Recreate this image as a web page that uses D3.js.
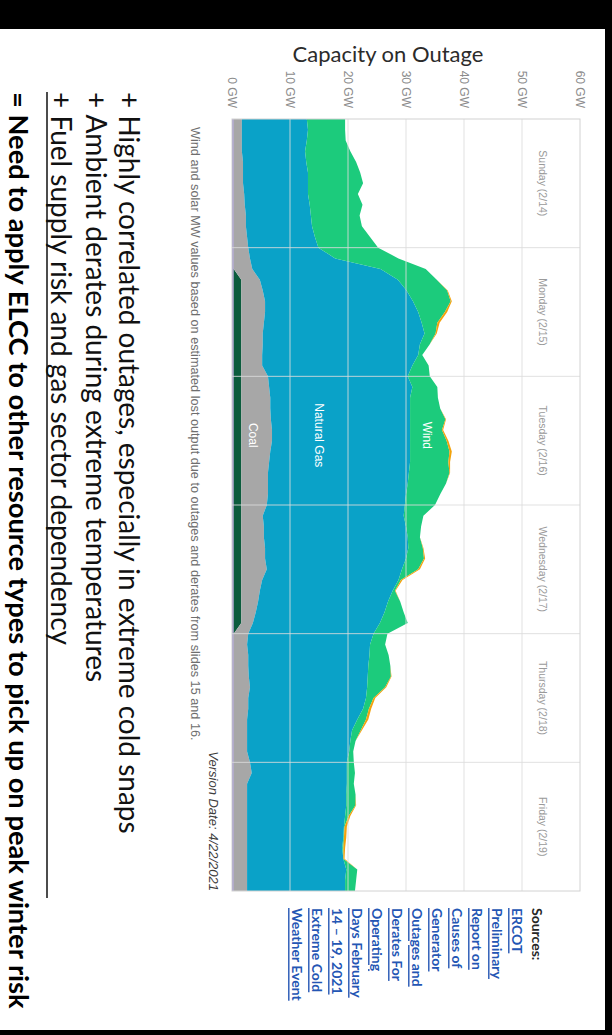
<!DOCTYPE html>
<html>
<head>
<meta charset="utf-8">
<script src="https://cdn.jsdelivr.net/npm/d3@7"></script>
<style>
  html, body { margin: 0; padding: 0; background: #000; }
  svg { display: block; }
</style>
</head>
<body>
<svg id="page" width="612" height="1035"></svg>
<script>
// Sample times, hours after Sunday 2/14 00:00
const hours = [
  0, 2, 4, 6, 8, 10, 12, 14, 16, 18, 20, 22,
  24, 26, 28, 30, 32, 34, 36, 38, 40, 42, 44, 46,
  48, 50, 52, 54, 56, 58, 60, 62, 64, 66, 68, 70,
  72, 74, 76, 78, 80, 82, 84, 86, 88, 90, 92, 94,
  96, 98, 100, 102, 104, 106, 108, 110, 112, 114, 116, 118,
  120, 122, 124, 126, 128, 130, 132, 134, 136, 138, 140, 142,
  144
];

const dayLabels = ["Sunday (2/14)", "Monday (2/15)", "Tuesday (2/16)",
                   "Wednesday (2/17)", "Thursday (2/18)", "Friday (2/19)"];
const gwTicks = [0, 10, 20, 30, 40, 50, 60];

// Capacity on outage by resource, GW
const other = [
  0.3,0.3,0.3,0.3,0.3,0.3,0.3,0.3,0.3,0.3,0.3,0.3,
  0.3,0.3,0.3,0.3,0.3,0.3,0.3,0.3,0.3,0.3,0.3,0.3,
  0.3,0.3,0.3,0.3,0.3,0.3,0.3,0.3,0.3,0.3,0.3,0.3,
  0.3,0.3,0.3,0.3,0.3,0.3,0.3,0.3,0.3,0.3,0.3,0.3,
  0.3,0.3,0.3,0.3,0.3,0.3,0.3,0.3,0.3,0.3,0.3,0.3,
  0.3,0.3,0.3,0.3,0.3,0.3,0.3,0.3,0.3,0.3,0.3,0.3,
  0.3
];
const nuclear = [
  0,0,0,0,0,0,0,0,0,0,0,0,
  0,0,0,1.3,1.3,1.3,1.3,1.3,1.3,1.3,1.3,1.3,
  1.3,1.3,1.3,1.3,1.3,1.3,1.3,1.3,1.3,1.3,1.3,1.3,
  1.3,1.3,1.3,1.3,1.3,1.3,1.3,1.3,1.3,1.3,1.3,1.3,
  0,0,0,0,0,0,0,0,0,0,0,0,
  0,0,0,0,0,0,0,0,0,0,0,0,
  0
];
const coal = [
  1.4,1.4,1.4,1.4,1.6,1.6,1.6,1.8,1.9,2.1,2.1,2.3,
  2.5,2.8,3.2,3.2,3.7,4.1,4.1,3.9,3.7,3.7,3.6,3.6,
  4.6,4.8,5.0,5.0,5.1,5.3,5.3,5.0,4.8,4.6,4.6,4.6,
  4.4,3.7,3.9,3.9,4.1,4.1,4.4,3.6,3.2,2.9,2.5,2.0,
  2.5,2.3,2.5,2.5,2.6,2.8,2.5,2.5,2.3,2.3,2.3,2.3,
  2.8,3.1,2.3,2.3,2.3,2.3,2.3,2.3,2.3,2.3,2.3,2.3,
  2.3
];
const naturalGas = [
  11.2,11.4,11.2,10.9,10.9,11.2,11.2,11.0,11.2,11.2,11.4,11.7,
  12.1,14.7,22.1,23.8,24.8,25.5,26.4,27.2,27.9,27.1,26.9,25.9,
  24.1,24.7,24.1,24.1,24.0,23.8,23.8,24.1,24.3,24.3,24.1,23.8,
  23.8,24.3,24.5,24.8,24.7,24.3,23.3,23.5,22.9,22.4,22.2,21.9,
  21.6,21.2,20.9,20.7,20.5,20.2,20.3,19.8,19.0,18.1,17.8,17.6,
  16.7,16.4,17.2,17.1,17.1,16.9,16.7,16.6,16.4,16.6,17.1,16.9,
  16.9
];
const wind = [
  6.6,6.4,6.7,7.8,8.6,9.0,9.5,8.6,9.1,8.4,8.6,9.5,
  10.3,10.9,7.8,6.7,7.0,6.5,4.6,2.7,1.9,1.7,0.7,2.8,
  3.8,4.3,4.8,5.2,6.1,5.5,6.3,6.8,6.6,7.0,6.6,5.9,
  5.2,3.4,2.6,2.1,2.5,3.1,2.8,0.4,0.4,2.1,3.3,4.8,
  2.4,2.6,3.3,3.8,4.0,3.1,1.3,1.0,1.5,1.5,0.9,0.7,
  1.2,1.4,1.2,1.6,1.6,0.6,0.1,0.1,0.2,0.0,1.9,1.9,
  1.7
];
const solar = [
  0,0,0,0,0,0,0,0,0,0,0,0,
  0,0,0,0,0.1,0.2,0.4,0.4,0.2,0,0,0,
  0,0,0,0,0.1,0.2,0.3,0.4,0.3,0.1,0,0,
  0,0,0,0,0.1,0.2,0.3,0.3,0.1,0,0,0,
  0,0,0,0,0.1,0.2,0.3,0.4,0.4,0.2,0,0,
  0,0,0,0,0.1,0.3,0.4,0.4,0.3,0.2,0,0,
  0
];

const layerKeys = ["other", "nuclear", "coal", "naturalGas", "wind", "solar"];
const layerColors = {
  other: "#9d92c8",
  nuclear: "#0c5c3d",
  coal: "#a7a7a7",
  naturalGas: "#0aa2c8",
  wind: "#1ccb7c",
  solar: "#f2a20c"
};

const bullets = [
  "+ Highly correlated outages, especially in extreme cold snaps",
  "+ Ambient derates during extreme temperatures",
  "+ Fuel supply risk and gas sector dependency"
];
const conclusion = "= Need to apply ELCC to other resource types to pick up on peak winter risk";
const footnote = "Wind and solar MW values based on estimated lost output due to outages and derates from slides 15 and 16.";
const versionText = "Version Date: 4/22/2021";
const sourceLines = ["ERCOT", "Preliminary", "Report on", "Causes of", "Generator",
  "Outages and", "Derates For", "Operating", "Days February", "14 \u2013 19, 2021",
  "Extreme Cold", "Weather Event"];

const table = hours.map((h, i) => ({
  hour: h, other: other[i], nuclear: nuclear[i], coal: coal[i],
  naturalGas: naturalGas[i], wind: wind[i], solar: solar[i]
}));

const svg = d3.select("#page");
const chartFont = "'Liberation Sans', Arial, sans-serif";
const slideFont = "Lato, 'Open Sans', sans-serif";

// page background: black frame with the white slide
svg.append("rect").attr("width", 612).attr("height", 1035).attr("fill", "#000");
svg.append("rect").attr("x", 0).attr("y", 29).attr("width", 605).attr("height", 1001).attr("fill", "#fff");

// axis title reads horizontally on the turned slide
svg.append("text")
  .attr("x", 388).attr("y", 53)
  .attr("text-anchor", "middle").attr("dominant-baseline", "central")
  .attr("font-family", slideFont).attr("font-size", 22)
  .attr("fill", "#2b2b2b")
  .text("Capacity on Outage");

// the slide is laid out in its own frame, turned a quarter clockwise
const slide = svg.append("g").attr("transform", "translate(605,30) rotate(90)");

const plot = { left: 89, right: 861, top: 25, bottom: 373 };
const x = d3.scaleLinear().domain([0, 144]).range([plot.left, plot.right]);
const y = d3.scaleLinear().domain([0, 60]).range([plot.bottom, plot.top]);

const series = d3.stack().keys(layerKeys)(table);
const area = d3.area()
  .x(d => x(d.data.hour))
  .y0(d => y(d[0]))
  .y1(d => y(d[1]));

slide.append("g").selectAll("path")
  .data(series)
  .join("path")
  .attr("d", area)
  .attr("fill", s => layerColors[s.key]);

// gridlines over the areas
const grid = slide.append("g").attr("stroke", "#dcdcdc").attr("stroke-opacity", 0.85).attr("stroke-width", 1);
grid.selectAll("line.gw")
  .data(gwTicks.filter(t => t > 0 && t < 60))
  .join("line")
  .attr("x1", plot.left).attr("x2", plot.right)
  .attr("y1", d => y(d)).attr("y2", d => y(d));
grid.selectAll("line.day")
  .data(d3.range(1, dayLabels.length))
  .join("line")
  .attr("x1", d => x(d * 24)).attr("x2", d => x(d * 24))
  .attr("y1", plot.top).attr("y2", plot.bottom);

slide.append("rect")
  .attr("x", plot.left).attr("y", plot.top)
  .attr("width", plot.right - plot.left).attr("height", plot.bottom - plot.top)
  .attr("fill", "none").attr("stroke", "#d2d2d2").attr("stroke-width", 1);

// value axis
const yAxis = slide.append("g")
  .attr("transform", `translate(${plot.left},0)`)
  .call(d3.axisLeft(y).tickValues(gwTicks).tickFormat(d => d + " GW").tickSize(0).tickPadding(11));
yAxis.select(".domain").remove();
yAxis.selectAll("text")
  .attr("font-family", chartFont).attr("font-size", 12).attr("fill", "#8c8c8c");

// day headers along the top of the plot
slide.append("g").selectAll("text")
  .data(dayLabels)
  .join("text")
  .attr("x", (d, i) => x(i * 24 + 12))
  .attr("y", 62)
  .attr("text-anchor", "middle").attr("dominant-baseline", "central")
  .attr("font-family", chartFont).attr("font-size", 10.5).attr("fill", "#9a9a9a")
  .text(d => d);

// labels inside the layers
const inLabels = [
  { text: "Wind", hour: 59, gw: 33.6 },
  { text: "Natural Gas", hour: 59, gw: 15.0 },
  { text: "Coal", hour: 59, gw: 3.7 }
];
slide.append("g").selectAll("text")
  .data(inLabels)
  .join("text")
  .attr("x", d => x(d.hour)).attr("y", d => y(d.gw))
  .attr("text-anchor", "middle").attr("dominant-baseline", "central")
  .attr("font-family", chartFont).attr("font-size", 12).attr("fill", "#ffffff")
  .text(d => d.text);

// footnote and version stamp
slide.append("text")
  .attr("x", 97).attr("y", 410)
  .attr("dominant-baseline", "central")
  .attr("font-family", chartFont).attr("font-size", 12.7).attr("fill", "#6e6e6e")
  .text(footnote);
slide.append("text")
  .attr("x", plot.right).attr("y", 392)
  .attr("text-anchor", "end").attr("dominant-baseline", "central")
  .attr("font-family", chartFont).attr("font-size", 13).attr("font-style", "italic")
  .attr("fill", "#3c3c3c")
  .text(versionText);

// sources block
slide.append("text")
  .attr("x", 878).attr("y", 68)
  .attr("dominant-baseline", "central")
  .attr("font-family", slideFont).attr("font-size", 14).attr("font-weight", 700)
  .attr("fill", "#262626")
  .text("Sources:");
slide.append("g").selectAll("text")
  .data(sourceLines)
  .join("text")
  .attr("x", 878).attr("y", (d, i) => 88 + i * 20)
  .attr("dominant-baseline", "central")
  .attr("font-family", slideFont).attr("font-size", 14).attr("font-weight", 700)
  .attr("fill", "#2456b4")
  .style("text-decoration", "underline")
  .text(d => d);

// takeaway bullets
slide.append("g").selectAll("text")
  .data(bullets)
  .join("text")
  .attr("x", 62).attr("y", (d, i) => [475, 508, 543][i])
  .attr("dominant-baseline", "central")
  .attr("font-family", slideFont).attr("font-size", 28).attr("fill", "#111")
  .text(d => d);
slide.append("line")
  .attr("x1", 62).attr("x2", 868).attr("y1", 558).attr("y2", 558)
  .attr("stroke", "#111").attr("stroke-width", 1.5);
slide.append("text")
  .attr("x", 62).attr("y", 586)
  .attr("dominant-baseline", "central")
  .attr("font-family", slideFont).attr("font-size", 27.3).attr("font-weight", 700)
  .attr("fill", "#000")
  .text(conclusion);
</script>
</body>
</html>
